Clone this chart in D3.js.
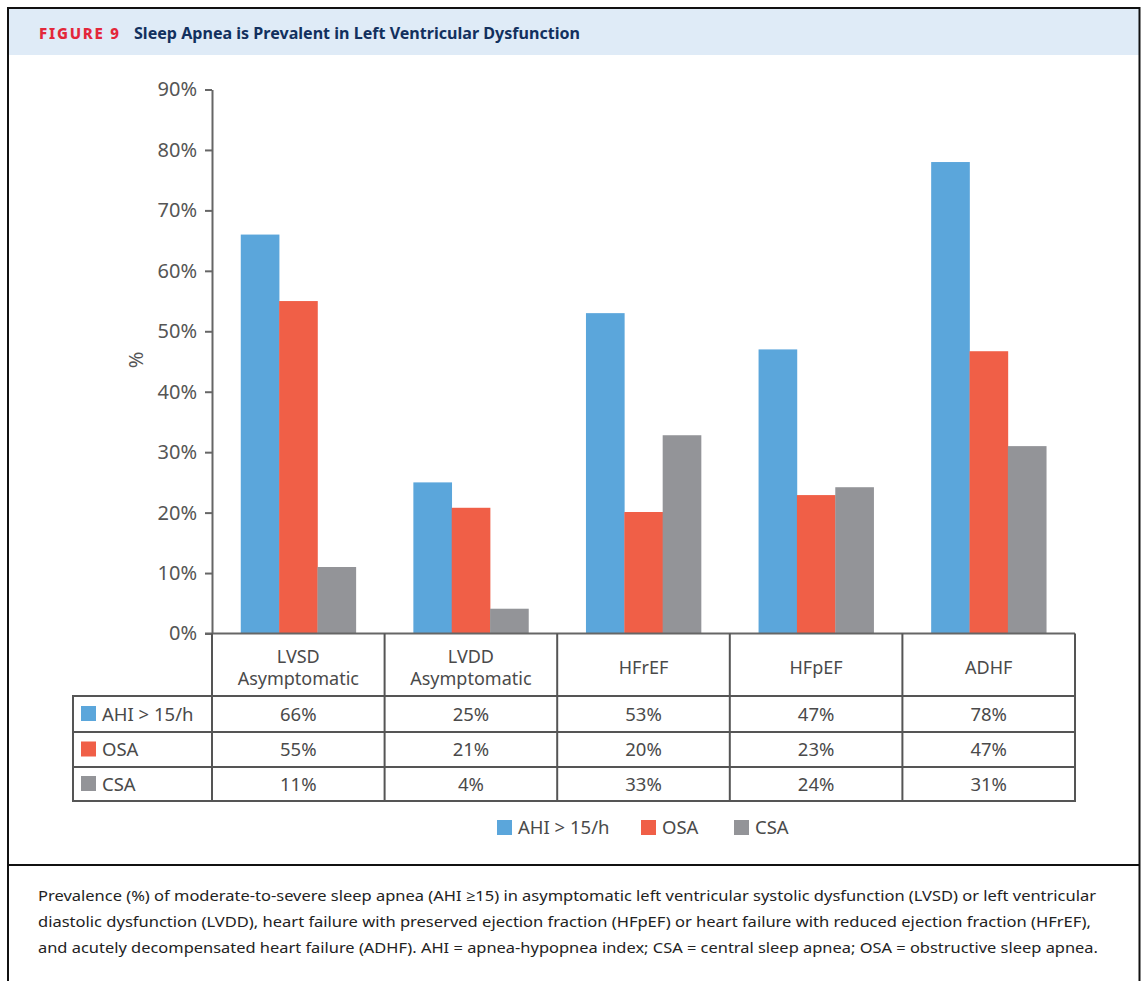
<!DOCTYPE html>
<html>
<head>
<meta charset="utf-8">
<script src="https://cdn.jsdelivr.net/npm/d3@7"></script>
<style>
  html, body { margin: 0; padding: 0; background: #fff; }
  svg { display: block; font-family: "Noto Sans", "Open Sans", sans-serif; }
</style>
</head>
<body>
<svg id="chart" width="1142" height="981"></svg>
<script>
// ---- data ----
const categories = ["LVSD Asymptomatic", "LVDD Asymptomatic", "HFrEF", "HFpEF", "ADHF"];
const categoryLines = [["LVSD", "Asymptomatic"], ["LVDD", "Asymptomatic"], ["HFrEF"], ["HFpEF"], ["ADHF"]];
const seriesNames = ["AHI > 15/h", "OSA", "CSA"];
const seriesColors = ["#5BA6DB", "#F05F47", "#939498"];
const ahiValues = [66, 25, 53, 47, 78];
const osaValues = [55, 20.8, 20.1, 22.9, 46.7];
const csaValues = [11, 4.1, 32.8, 24.2, 31];
const ahiLabels = ["66%", "25%", "53%", "47%", "78%"];
const osaLabels = ["55%", "21%", "20%", "23%", "47%"];
const csaLabels = ["11%", "4%", "33%", "24%", "31%"];
const yTicks = [0, 10, 20, 30, 40, 50, 60, 70, 80, 90];
const figureLabel = "FIGURE 9";
const figureTitle = "Sleep Apnea is Prevalent in Left Ventricular Dysfunction";
const captionLines = [
  "Prevalence (%) of moderate-to-severe sleep apnea (AHI \u226515) in asymptomatic left ventricular systolic dysfunction (LVSD) or left ventricular",
  "diastolic dysfunction (LVDD), heart failure with preserved ejection fraction (HFpEF) or heart failure with reduced ejection fraction (HFrEF),",
  "and acutely decompensated heart failure (ADHF). AHI = apnea-hypopnea index; CSA = central sleep apnea; OSA = obstructive sleep apnea."
];
const seriesValues = [ahiValues, osaValues, csaValues];
const seriesLabels = [ahiLabels, osaLabels, csaLabels];

// ---- layout ----
const svg = d3.select("#chart");
const plotLeft = 212, plotRight = 1075;
const yTop = 89.5, yBottom = 633.5;
const tableRowLines = [696, 732, 767, 801];
const tableLeft = 73;
const lineColor = "#555";
const textColor = "#4a4a4a";

// frame
svg.append("rect").attr("x", 9).attr("y", 9).attr("width", 1130).attr("height", 46)
  .attr("fill", "#DFEBF7");
svg.append("path").attr("d", `M8,981 V8 H1139.5 V981`).attr("fill", "none")
  .attr("stroke", "#111").attr("stroke-width", 2);
svg.append("line").attr("x1", 8).attr("x2", 1140).attr("y1", 865).attr("y2", 865)
  .attr("stroke", "#111").attr("stroke-width", 2);

// header text
svg.append("text").attr("x", 39).attr("y", 39).text(figureLabel)
  .attr("fill", "#E3273A").attr("font-weight", 800).attr("font-size", 15)
  .attr("textLength", 80).attr("lengthAdjust", "spacing");
svg.append("text").attr("x", 134).attr("y", 39).text(figureTitle)
  .attr("fill", "#12305E").attr("font-weight", 700).attr("font-size", 15.5)
  .attr("textLength", 446).attr("lengthAdjust", "spacingAndGlyphs");

// scales
const y = d3.scaleLinear().domain([0, 90]).range([yBottom, yTop]);
const xCol = d3.scaleBand().domain(categories).range([plotLeft, plotRight]).padding(0);
const xBar = d3.scaleBand().domain(categories).range([plotLeft, plotRight])
  .paddingInner(1 / 3).paddingOuter(1 / 6);
const xSeries = d3.scaleBand().domain(seriesNames).range([0, xBar.bandwidth()]).padding(0);

// bars
const g = svg.append("g");
seriesNames.forEach((s, si) => {
  g.append("g").selectAll("rect").data(categories).join("rect")
    .attr("x", c => xBar(c) + xSeries(s))
    .attr("width", xSeries.bandwidth() + 0.3)
    .attr("y", (c, i) => y(seriesValues[si][i]))
    .attr("height", (c, i) => y(0) - y(seriesValues[si][i]))
    .attr("fill", seriesColors[si]);
});

// y axis
const yAxis = svg.append("g").attr("transform", `translate(${plotLeft},0)`)
  .call(d3.axisLeft(y).tickValues(yTicks).tickFormat(d => d + "%").tickSize(7).tickSizeOuter(0).tickPadding(8));
yAxis.select(".domain").attr("stroke", "#666").attr("stroke-width", 2);
yAxis.selectAll(".tick line").attr("stroke", "#666").attr("stroke-width", 2);
yAxis.selectAll(".tick text").attr("fill", "#555").attr("font-size", 20)
  .attr("font-family", "Noto Sans, sans-serif");

// y label
svg.append("text").attr("transform", "translate(143,360) rotate(-90)")
  .attr("text-anchor", "middle").attr("fill", "#555").attr("font-size", 20).text("%");

// baseline
svg.append("line").attr("x1", plotLeft - 7).attr("x2", plotRight)
  .attr("y1", y(0)).attr("y2", y(0)).attr("stroke", "#666").attr("stroke-width", 2);

// table grid
const tg = svg.append("g").attr("stroke", lineColor).attr("stroke-width", 2);
const colEdges = categories.map(c => xCol(c)).concat([plotRight]);
colEdges.forEach(xv => {
  tg.append("line").attr("x1", xv).attr("x2", xv).attr("y1", y(0)).attr("y2", tableRowLines[3]);
});
tg.append("line").attr("x1", tableLeft).attr("x2", tableLeft)
  .attr("y1", tableRowLines[0]).attr("y2", tableRowLines[3]);
tableRowLines.forEach(yy => {
  tg.append("line").attr("x1", tableLeft - 1).attr("x2", plotRight + 1).attr("y1", yy).attr("y2", yy);
});

// category header labels
categoryLines.forEach((lines, i) => {
  const cx = xCol(categories[i]) + xCol.bandwidth() / 2;
  const t = svg.append("text").attr("text-anchor", "middle").attr("fill", textColor)
    .attr("font-size", 18);
  if (lines.length === 2) {
    t.append("tspan").attr("x", cx).attr("y", 662.5).text(lines[0]);
    t.append("tspan").attr("x", cx).attr("y", 684.5).text(lines[1]);
  } else {
    t.append("tspan").attr("x", cx).attr("y", 674).text(lines[0]);
  }
});

// table rows
seriesNames.forEach((s, si) => {
  const top = tableRowLines[si], bot = tableRowLines[si + 1];
  const mid = (top + bot) / 2;
  svg.append("rect").attr("x", 81).attr("y", mid - 8).attr("width", 15).attr("height", 15)
    .attr("fill", seriesColors[si]);
  svg.append("text").attr("x", 102).attr("y", mid + 6.5).attr("fill", textColor)
    .attr("font-size", 18.5).text(s);
  svg.append("g").selectAll("text").data(categories).join("text")
    .attr("x", c => xCol(c) + xCol.bandwidth() / 2)
    .attr("y", mid + 6.5)
    .attr("text-anchor", "middle").attr("fill", textColor).attr("font-size", 18.5)
    .text((c, i) => seriesLabels[si][i]);
});

// legend
const legendX = [497, 641, 734];
seriesNames.forEach((s, si) => {
  svg.append("rect").attr("x", legendX[si]).attr("y", 820).attr("width", 15).attr("height", 15)
    .attr("fill", seriesColors[si]);
  svg.append("text").attr("x", legendX[si] + 21).attr("y", 834).attr("fill", textColor)
    .attr("font-size", 18.5).text(s);
});

// caption
const capY = [901, 927, 953];
const capW = [1058, 1053, 1060];
captionLines.forEach((line, i) => {
  svg.append("text").attr("x", 38).attr("y", capY[i]).attr("fill", "#222")
    .attr("font-size", 15).attr("textLength", capW[i]).attr("lengthAdjust", "spacingAndGlyphs")
    .text(line);
});
</script>
</body>
</html>
